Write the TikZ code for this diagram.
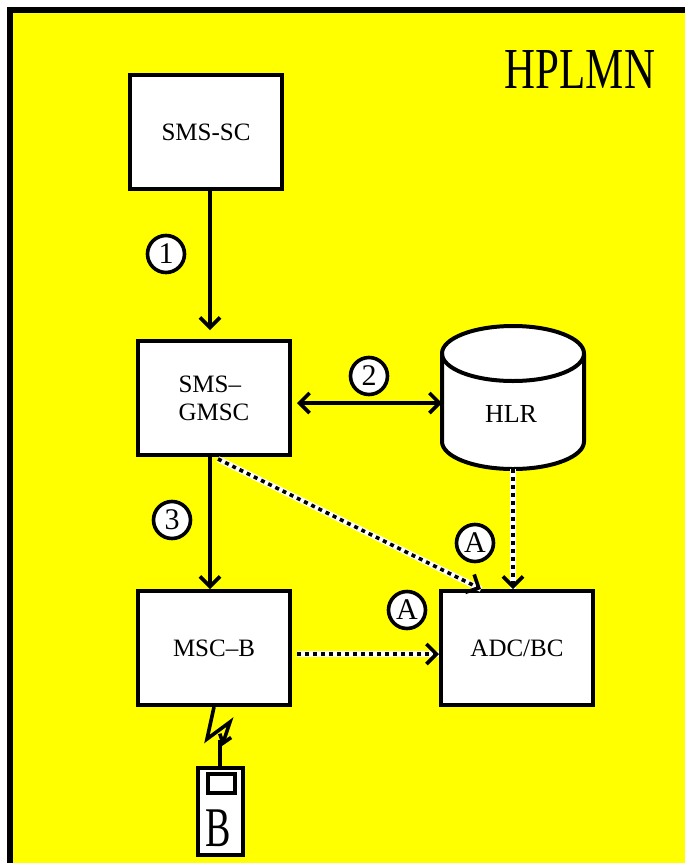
\documentclass[tikz,border=0pt]{standalone}
\usepackage{fontspec}
\setmainfont{Liberation Serif}
\usetikzlibrary{arrows.meta}
\definecolor{plmnyellow}{RGB}{255,255,0}

\begin{document}
\begin{tikzpicture}[x=0.5pt,y=-0.5pt,line width=1.8pt,
    >={Straight Barb[length=5pt,width=10pt,line width=1.8pt]}]
    % one unit is one pixel of the reference
    \tikzstyle{unit}=[rectangle,draw=black,fill=white,line width=2pt,
    minimum width=76pt,minimum height=57pt,font=\fontsize{12.5}{14}\selectfont]
    \tikzstyle{seqnum}=[circle,draw=black,fill=white,line width=1.8pt,
    minimum size=18.5pt,inner sep=0pt,font=\fontsize{15}{15}\selectfont]
    \tikzstyle{dotlink}=[->,dash pattern=on 2pt off 2pt,
    preaction={draw=white,solid,line width=3pt,-}]

    \useasboundingbox (0,0) rectangle (685,863);
    \draw[line width=3.2pt,fill=plmnyellow] (10,10) rectangle (700,866);
    \node[xscale=0.74,font=\fontsize{29}{29}\selectfont] (plmn) at (580,70) {HPLMN};

    \node [unit] (smssc) at (206,132) {SMS-SC};
    \node [unit,align=left] (gmsc) at (214,398) {SMS--\\GMSC};
    \node [unit] (mscb) at (214,648) {MSC--B};
    \node [unit] (adc) at (517,648) {ADC/BC};

    % HLR drum
    \node [rectangle,outer sep=0pt,minimum width=71pt,minimum height=71.5pt] (hlr) at (513,397.5) {};
    \draw[line width=2pt,fill=white] ([yshift=-13.75pt]hlr.north west) -- ([yshift=13.75pt]hlr.south west)
      arc[start angle=180,end angle=360,x radius=35.5pt,y radius=13.75pt]
      -- ([yshift=-13.75pt]hlr.north east)
      arc[start angle=0,end angle=180,x radius=35.5pt,y radius=13.75pt] -- cycle;
    \draw[line width=2pt] ([yshift=-13.75pt]hlr.north west)
      arc[start angle=180,end angle=360,x radius=35.5pt,y radius=13.75pt];
    \node [font=\fontsize{13}{14}\selectfont] (hlrtext) at (511,414) {HLR};

    \draw[->] ([xshift=2pt]smssc.south) -- ([shift={(-4,-9)}]gmsc.north);
    \draw[<->] ([shift={(5,5)}]gmsc.east) -- ([shift={(0,5.5)}]hlr.west);
    \draw[->] ([xshift=-2pt]gmsc.south) -- ([xshift=-2pt]mscb.north);

    \draw[dotlink] ([shift={(4,2)}]gmsc.south) -- ([shift={(-36,0)}]adc.north);
    \draw[dotlink] (hlr.south) -- (hlr.south |- adc.north);
    \draw[dotlink] ([shift={(5,6)}]mscb.east) -- ([shift={(0,6)}]adc.west);

    \node [seqnum] (s1) at (166,254) {1};
    \node [seqnum] (s2) at (369,376) {2};
    \node [seqnum] (s3) at (172,520) {3};
    \node [seqnum] (a1) at (475,543) {A};
    \node [seqnum] (a2) at (407,610) {A};

    % mobile station B
    \node [rectangle,draw,line width=2pt,fill=white,minimum width=22.5pt,minimum height=43.5pt] (phone) at (220,811.5) {};
    \draw[fill=white] ([shift={(-12,8)}]phone.north) rectangle ++(27,19);
    \node [xscale=0.68,font=\fontsize{28}{28}\selectfont] (msb) at (218,828) {B};
    \draw[-{Straight Barb[length=4pt,width=6pt,line width=1.8pt]}] (mscb.south) -- ++(-7,32) -- ++(23,-17) -- ++(-8,24);
    \draw (phone.north) -- ++(0,-26);
\end{tikzpicture}
\end{document}
